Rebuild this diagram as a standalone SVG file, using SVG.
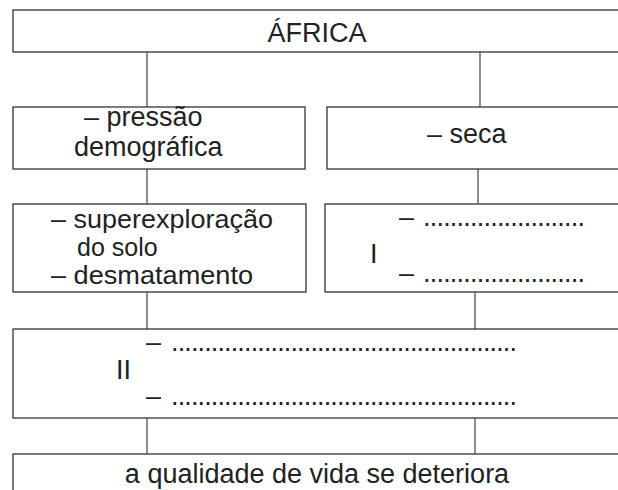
<svg xmlns="http://www.w3.org/2000/svg" width="618" height="490" viewBox="0 0 618 490">
<style>
.box{fill:#fff;stroke:#333;stroke-width:1.3}
.ln{stroke:#444;stroke-width:1.2;fill:none}
text{font-family:"Liberation Sans",Arial,sans-serif;font-size:27px;fill:#222}
.c{text-anchor:middle}
.sm{font-size:25px}
</style>
<rect width="618" height="490" fill="#fff"/>
<g id="connectors">
<line class="ln" x1="147" y1="52" x2="147" y2="107"/>
<line class="ln" x1="480" y1="52" x2="480" y2="107"/>
<line class="ln" x1="147" y1="169" x2="147" y2="204"/>
<line class="ln" x1="478" y1="169" x2="478" y2="204"/>
<line class="ln" x1="147" y1="292" x2="147" y2="329"/>
<line class="ln" x1="475" y1="292" x2="475" y2="329"/>
<line class="ln" x1="147" y1="418" x2="147" y2="454"/>
<line class="ln" x1="475" y1="418" x2="475" y2="454"/>
</g>
<g id="africa">
<rect class="box" x="13" y="10" width="640" height="42"/>
<text class="c" x="317" y="42">ÁFRICA</text>
</g>
<g id="pressao">
<rect class="box" x="13" y="107" width="292" height="62"/>
<text><tspan x="84" y="126">– pressão</tspan><tspan x="74" y="156">demográfica</tspan></text>
</g>
<g id="seca">
<rect class="box" x="327" y="107" width="320" height="62"/>
<text x="427" y="143">– seca</text>
</g>
<g id="superexploracao">
<rect class="box" x="13" y="204" width="293" height="88"/>
<text class="sm" x="51" y="228" textLength="222" lengthAdjust="spacingAndGlyphs">– superexploração</text>
<text class="sm" x="77" y="256">do solo</text>
<text class="sm" x="51" y="284" textLength="202" lengthAdjust="spacingAndGlyphs">– desmatamento</text>
</g>
<g id="box-I">
<rect class="box" x="325" y="204" width="320" height="88"/>
<text x="399" y="226">–</text>
<text x="423" y="226" textLength="162" lengthAdjust="spacing">........................</text>
<text x="370" y="263">I</text>
<text x="399" y="282">–</text>
<text x="423" y="282" textLength="162" lengthAdjust="spacing">........................</text>
</g>
<g id="box-II">
<rect class="box" x="13" y="329" width="640" height="89"/>
<text x="146" y="351">–</text>
<text x="171" y="351" textLength="346" lengthAdjust="spacing">....................................................</text>
<text x="116" y="379">II</text>
<text x="146" y="405">–</text>
<text x="171" y="405" textLength="346" lengthAdjust="spacing">....................................................</text>
</g>
<g id="qualidade">
<rect class="box" x="13" y="454" width="640" height="60"/>
<text class="c" x="317" y="483">a qualidade de vida se deteriora</text>
</g>
</svg>
